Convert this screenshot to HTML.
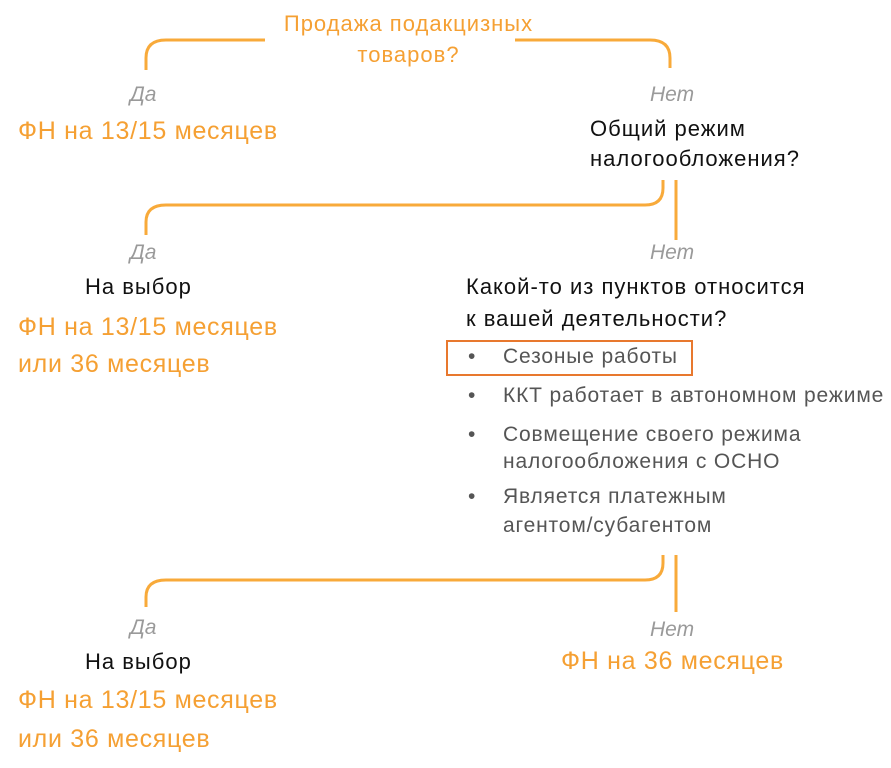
<!DOCTYPE html>
<html><head><meta charset="utf-8"><style>
body{margin:0;width:891px;height:768px;background:#fff;position:relative;overflow:hidden;font-family:"Liberation Sans","DejaVu Sans",sans-serif}
.t{position:absolute;white-space:nowrap;line-height:1}
.o{color:#f5a033}
.g{color:#9a9a9a;font-style:italic;font-size:21px}
.k{color:#111;font-size:22px;letter-spacing:1px}
.b{color:#555;font-size:21px;letter-spacing:0.85px}
.big{font-size:25px;letter-spacing:0.7px}
</style></head><body>
<svg width="891" height="768" style="position:absolute;left:0;top:0" fill="none" stroke="#f8aa3a" stroke-width="3">
<path d="M146 70 V58 Q146 40 166 40 H265"/>
<path d="M515 40 H650 Q670 40 670 58 V68"/>
<path d="M663 180 V188 Q663 205 645 205 H166 Q146 205 146 222 V235"/>
<path d="M676 180 V240"/>
<path d="M663 555 V563 Q663 580 645 580 H166 Q146 580 146 597 V607"/>
<path d="M676 555 V612"/>
</svg>
<div class="t o" style="left:282px;top:13px;font-size:22px;letter-spacing:1px;width:253px;text-align:center">Продажа подакцизных</div>
<div class="t o" style="left:282px;top:44px;font-size:22px;letter-spacing:1px;width:253px;text-align:center">товаров?</div>
<div class="t g" style="left:130px;top:84px">Да</div>
<div class="t g" style="left:650px;top:84px">Нет</div>
<div class="t o big" style="left:18px;top:119px">ФН на 13/15 месяцев</div>
<div class="t k" style="left:590px;top:118px">Общий режим</div>
<div class="t k" style="left:590px;top:148px">налогообложения?</div>
<div class="t g" style="left:130px;top:242px">Да</div>
<div class="t g" style="left:650px;top:242px">Нет</div>
<div class="t k" style="left:85px;top:276px">На выбор</div>
<div class="t o big" style="left:18px;top:315px">ФН на 13/15 месяцев</div>
<div class="t o big" style="left:18px;top:352px">или 36 месяцев</div>
<div class="t k" style="left:466px;top:276px">Какой-то из пунктов относится</div>
<div class="t k" style="left:466px;top:308px">к вашей деятельности?</div>
<div style="position:absolute;left:446px;top:340px;width:243px;height:32px;border:2px solid #e8782e"></div>
<div class="t b" style="left:468px;top:346px">•</div><div class="t b" style="left:503px;top:346px">Сезоные работы</div>
<div class="t b" style="left:468px;top:385px">•</div><div class="t b" style="left:503px;top:385px">ККТ работает в автономном режиме</div>
<div class="t b" style="left:468px;top:424px">•</div><div class="t b" style="left:503px;top:424px">Совмещение своего режима</div>
<div class="t b" style="left:503px;top:451px">налогообложения с ОСНО</div>
<div class="t b" style="left:468px;top:486px">•</div><div class="t b" style="left:503px;top:486px">Является платежным</div>
<div class="t b" style="left:503px;top:515px">агентом/субагентом</div>
<div class="t g" style="left:130px;top:617px">Да</div>
<div class="t g" style="left:650px;top:619px">Нет</div>
<div class="t k" style="left:85px;top:651px">На выбор</div>
<div class="t o big" style="left:561px;top:649px">ФН на 36 месяцев</div>
<div class="t o big" style="left:18px;top:688px">ФН на 13/15 месяцев</div>
<div class="t o big" style="left:18px;top:727px">или 36 месяцев</div>
</body></html>
